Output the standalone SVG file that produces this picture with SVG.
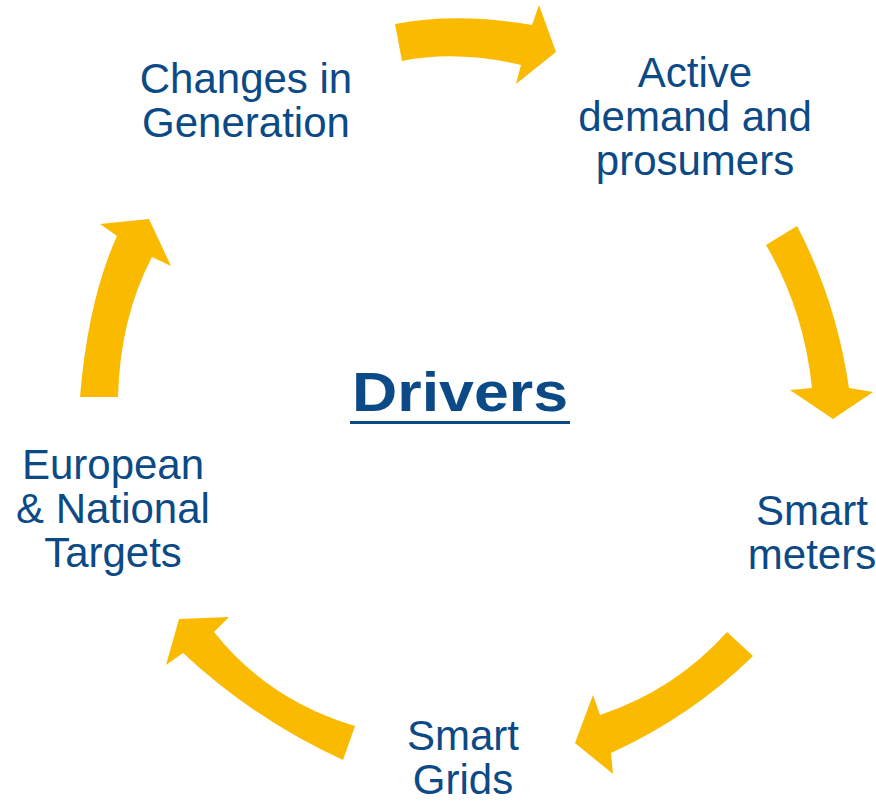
<svg xmlns="http://www.w3.org/2000/svg" width="876" height="803" viewBox="0 0 876 803">
<style>
.arrow{fill:#F9BA00;stroke:none}
.lbl{font-family:"Liberation Sans",Arial,sans-serif;font-size:42px;fill:#0B4A86;text-anchor:middle}
.title{font-family:"Liberation Sans",Arial,sans-serif;font-size:55px;font-weight:bold;fill:#0B4A86;text-anchor:middle}
</style>
<rect width="876" height="803" fill="#FFFFFF"/>
<g id="connectors">
<path class="arrow" d="M395,24 Q457,12 532,25 L539,5 L556,52 L516,84 L521,65 Q457,50 402,61 Z"/>
<path class="arrow" d="M766,245 L797,226 Q836,300 849,388 L873,392 L833,419 L790,390 L812,388 Q804,310 766,245 Z"/>
<path class="arrow" d="M727,632 L753,656 Q692,716 611,753 L613,774 L575,743 L593,695 L600,715 Q675,690 727,632 Z"/>
<path class="arrow" d="M355,726 L343,760 Q255,720 183,653 L166,665 L179,619 L229,617 L214,632 Q268,700 355,726 Z"/>
<path class="arrow" d="M80,397 L118,397 Q120,318 152,257 L171,266 L149,219 L100,224 L117,236 Q88,300 80,397 Z"/>
</g>
<g id="center">
<text class="title" x="460" y="411" textLength="216" lengthAdjust="spacingAndGlyphs">Drivers</text>
<rect x="350" y="421" width="220" height="3" fill="#0B4A86"/>
</g>
<g id="changes-in-generation">
<text class="lbl" x="246" y="93">Changes in</text>
<text class="lbl" x="246" y="137">Generation</text>
</g>
<g id="active-demand">
<text class="lbl" x="695" y="87">Active</text>
<text class="lbl" x="695" y="131">demand and</text>
<text class="lbl" x="695" y="175">prosumers</text>
</g>
<g id="smart-meters">
<text class="lbl" x="812" y="525">Smart</text>
<text class="lbl" x="812" y="569">meters</text>
</g>
<g id="smart-grids">
<text class="lbl" x="463" y="750">Smart</text>
<text class="lbl" x="463" y="794">Grids</text>
</g>
<g id="european-targets">
<text class="lbl" x="113" y="479">European</text>
<text class="lbl" x="113" y="523">&amp; National</text>
<text class="lbl" x="113" y="567">Targets</text>
</g>
</svg>
